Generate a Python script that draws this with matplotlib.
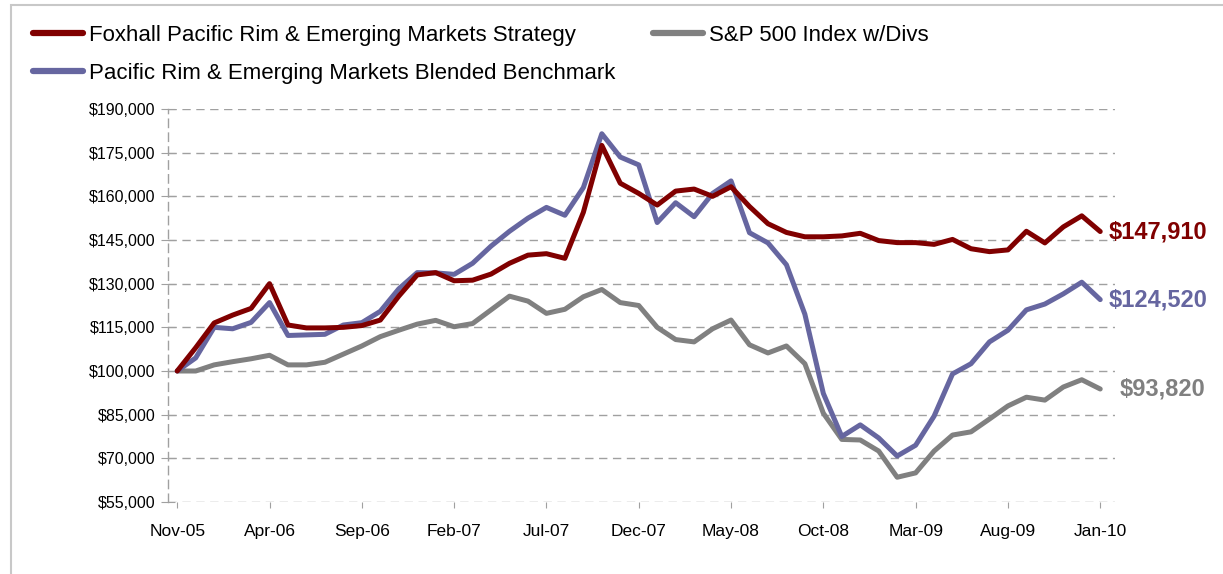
import numpy as np
import matplotlib.pyplot as plt
from matplotlib.patches import Rectangle
from matplotlib.ticker import FuncFormatter

plt.rcParams['font.family'] = ['Liberation Sans', 'DejaVu Sans']

# monthly values, Nov-05 .. Jan-10 (in $ thousands)
foxhall = [100.0, 108.0, 116.5, 119.2, 121.5, 130.0, 115.8, 114.8, 114.8, 115.0,
           115.6, 117.5, 125.7, 133.0, 133.8, 131.0, 131.2, 133.3, 137.0, 139.8,
           140.3, 138.7, 154.5, 177.5, 164.5, 161.0, 157.0, 161.8, 162.5, 160.0,
           163.3, 156.5, 150.6, 147.6, 146.1, 146.1, 146.4, 147.3, 144.8, 144.1,
           144.1, 143.5, 145.2, 142.0, 141.0, 141.6, 148.0, 144.0, 149.5, 153.3,
           147.91]
sp500 = [100.0, 100.0, 102.1, 103.2, 104.2, 105.4, 102.1, 102.1, 103.0, 105.8,
         108.6, 111.8, 114.0, 116.1, 117.4, 115.2, 116.3, 121.0, 125.7, 124.0,
         119.8, 121.2, 125.5, 128.0, 123.5, 122.5, 115.0, 110.8, 110.0, 114.5,
         117.5, 109.0, 106.2, 108.6, 102.5, 85.5, 76.5, 76.3, 72.5, 63.5,
         65.0, 72.5, 78.0, 79.1, 83.5, 88.0, 91.0, 90.0, 94.5, 97.0,
         93.82]
blended = [100.0, 104.5, 115.0, 114.5, 116.7, 123.5, 112.2, 112.4, 112.6, 115.8,
           116.6, 120.5, 128.2, 133.8, 133.7, 133.2, 137.0, 142.9, 148.0, 152.5,
           156.2, 153.5, 163.0, 181.5, 173.5, 170.8, 151.0, 157.8, 153.0, 161.0,
           165.3, 147.5, 144.0, 136.5, 119.5, 92.3, 77.5, 81.5, 77.0, 70.8,
           74.5, 84.5, 99.0, 102.5, 110.0, 114.0, 121.0, 123.0, 126.5, 130.5,
           124.52]
tick_labels = ['Nov-05', 'Apr-06', 'Sep-06', 'Feb-07', 'Jul-07', 'Dec-07',
               'May-08', 'Oct-08', 'Mar-09', 'Aug-09', 'Jan-10']
end_labels = ['$147,910', '$124,520', '$93,820']

RED = '#800000'
BLUE = '#6666A0'
GRAY = '#808080'

months = np.arange(len(foxhall))

fig = plt.figure(figsize=(12.23, 5.74), dpi=100)
ax = fig.add_axes([168/1223, 1 - 502/574, (1115-168)/1223, (502-109)/574])

# outer frame of the chart area
fig.patches.append(Rectangle((11/1223, -0.1), 1.2, 1 - 4.5/574 + 0.1,
                             transform=fig.transFigure, fill=False,
                             edgecolor='#c8c8c8', linewidth=1.5))

l_sp, = ax.plot(months, np.array(sp500) * 1000, color=GRAY, lw=3.6,
                solid_capstyle='round', zorder=3)
l_bl, = ax.plot(months, np.array(blended) * 1000, color=BLUE, lw=3.6,
                solid_capstyle='round', zorder=4)
l_fx, = ax.plot(months, np.array(foxhall) * 1000, color=RED, lw=3.6,
                solid_capstyle='round', zorder=5)

ax.set_xlim(-0.5, 50.8)
ax.set_ylim(55000, 190000)
ax.set_yticks(np.arange(55000, 190001, 15000))
ax.yaxis.set_major_formatter(FuncFormatter(lambda v, p: '${:,.0f}'.format(v)))
ax.set_xticks(np.arange(0, 51, 5))
ax.set_xticklabels(tick_labels)
ax.tick_params(axis='y', direction='inout', length=10, width=0.8, color='#a0a0a0',
               labelsize=11.5, pad=4)
ax.tick_params(axis='x', direction='out', length=4, width=0.8, color='#a0a0a0',
               labelsize=12.5, pad=12)

ax.grid(axis='y', color='#a0a0a0', linestyle=(0, (6, 4)), linewidth=1.0)
for s in ['top', 'right', 'bottom']:
    ax.spines[s].set_visible(False)
ax.spines['left'].set_color('#a0a0a0')
ax.spines['left'].set_linestyle((0, (6, 4)))
ax.spines['left'].set_linewidth(1.0)

# end values
ax.annotate(end_labels[0], (months[-1], foxhall[-1] * 1000), xytext=(6, 0),
            textcoords='offset points', color=RED, fontsize=17, fontweight='bold',
            va='center', annotation_clip=False)
ax.annotate(end_labels[1], (months[-1], blended[-1] * 1000), xytext=(6, 0),
            textcoords='offset points', color=BLUE, fontsize=17, fontweight='bold',
            va='center', annotation_clip=False)
ax.annotate(end_labels[2], (months[-1], sp500[-1] * 1000), xytext=(14, 0),
            textcoords='offset points', color=GRAY, fontsize=17, fontweight='bold',
            va='center', annotation_clip=False)

leg_kw = dict(loc='upper left', frameon=False, fontsize=16, handlelength=2.25,
              handletextpad=0.25, labelspacing=0.75, borderpad=0, borderaxespad=0)
leg1 = fig.legend([l_fx, l_bl],
                  ['Foxhall Pacific Rim & Emerging Markets Strategy',
                   'Pacific Rim & Emerging Markets Blended Benchmark'],
                  bbox_to_anchor=(33/1223, 1 - 25/574), **leg_kw)
leg2 = fig.legend([l_sp], ['S&P 500 Index w/Divs'],
                  bbox_to_anchor=(653/1223, 1 - 25/574), **leg_kw)
for lg in (leg1, leg2):
    for h in lg.legend_handles:
        h.set_linewidth(4.5)

fig.savefig('out.png', dpi=100)
